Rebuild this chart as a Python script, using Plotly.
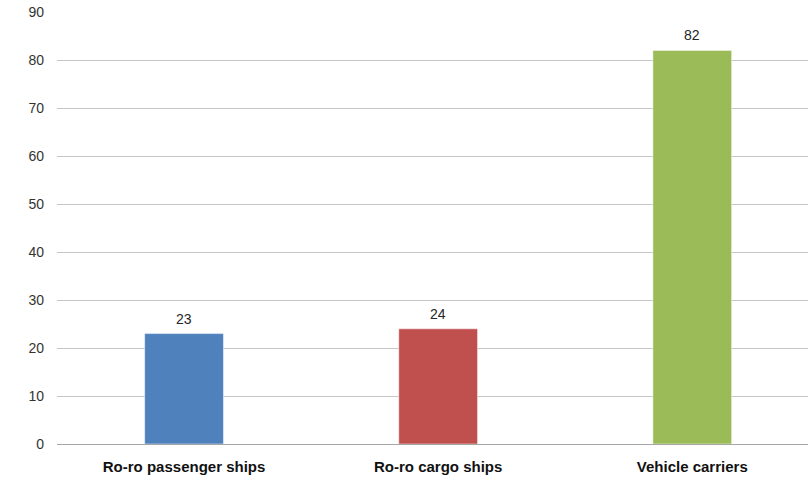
import plotly.graph_objects as go

categories = ["Ro-ro passenger ships", "Ro-ro cargo ships", "Vehicle carriers"]
values = [23, 24, 82]
colors = ["#4F81BD", "#C0504D", "#9BBB59"]
y_ticks = [0, 10, 20, 30, 40, 50, 60, 70, 80, 90]

FONT = "Liberation Sans, Arial"

fig = go.Figure()
fig.add_trace(go.Bar(
    x=categories,
    y=values,
    marker=dict(color=colors, line=dict(color="rgba(255,255,255,0.6)", width=0.8)),
    width=0.31,
))

for c, v in zip(categories, values):
    fig.add_annotation(
        x=c, y=v, text=str(v), showarrow=False,
        yanchor="bottom", yshift=5,
        font=dict(family=FONT, size=14, color="#262626"),
    )

fig.update_layout(
    width=808,
    height=480,
    margin=dict(l=57, r=0, t=12, b=36),
    plot_bgcolor="white",
    paper_bgcolor="white",
    showlegend=False,
    font=dict(family=FONT, color="#404040"),
)
fig.update_xaxes(
    range=[-0.5, 2.4555],
    showgrid=False,
    showline=True,
    linecolor="#A6A6A6",
    linewidth=1,
    tickfont=dict(family=FONT, size=15, color="#111111", weight="bold"),
    ticks="",
    ticklabelstandoff=9,
)
fig.update_yaxes(
    range=[0, 90],
    tickvals=y_ticks,
    showgrid=True,
    gridcolor="#C6C6C6",
    gridwidth=1,
    zeroline=False,
    showline=False,
    tickfont=dict(family=FONT, size=14, color="#333333"),
    ticklabelstandoff=12,
)

fig.write_html("out.html")
